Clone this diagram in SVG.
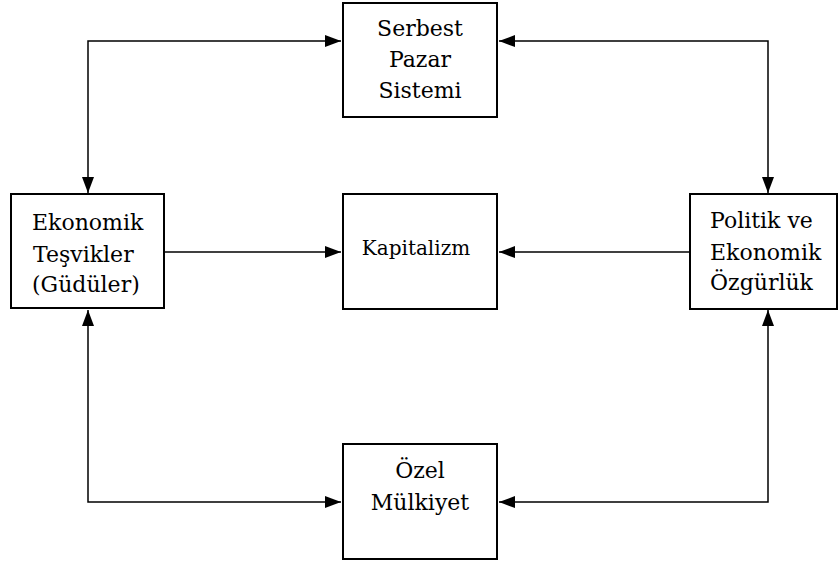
<svg xmlns="http://www.w3.org/2000/svg" width="838" height="564" viewBox="0 0 838 564">
<style>
.box{fill:#fff;stroke:#000;stroke-width:2}
.ln{fill:none;stroke:#000;stroke-width:1.5}
</style>
<defs>
<marker id="ah" viewBox="0 0 16 12" refX="16" refY="6" markerWidth="16" markerHeight="12" markerUnits="userSpaceOnUse" orient="auto-start-reverse">
<path d="M0,0 L16,6 L0,12 Z" fill="#000"/>
</marker>
</defs>
<rect width="838" height="564" fill="#fff"/>
<g id="connectors">
<polyline class="ln" points="88,193 88,41 341,41" marker-start="url(#ah)" marker-end="url(#ah)"/>
<polyline class="ln" points="499,41 768,41 768,193" marker-start="url(#ah)" marker-end="url(#ah)"/>
<polyline class="ln" points="88,310 88,502 341,502" marker-start="url(#ah)" marker-end="url(#ah)"/>
<polyline class="ln" points="768,310 768,502 499,502" marker-start="url(#ah)" marker-end="url(#ah)"/>
<line class="ln" x1="165" y1="252" x2="341" y2="252" marker-end="url(#ah)"/>
<line class="ln" x1="689" y1="252" x2="499" y2="252" marker-end="url(#ah)"/>
</g>
<g font-family="'DejaVu Serif', 'Liberation Serif', serif" font-size="22" fill="#000">
<g id="serbest" text-anchor="middle">
<rect class="box" x="343" y="3" width="154" height="114"/>
<text x="420" y="36">Serbest</text>
<text x="420" y="67">Pazar</text>
<text x="420" y="98">Sistemi</text>
</g>
<g id="ekonomik">
<rect class="box" x="11" y="194" width="153" height="114"/>
<text x="32" y="230">Ekonomik</text>
<text x="33" y="262">Teşvikler</text>
<text x="32" y="292">(Güdüler)</text>
</g>
<g id="kapitalizm" text-anchor="middle">
<rect class="box" x="343" y="194" width="154" height="115"/>
<text x="416" y="255" font-size="20">Kapitalizm</text>
</g>
<g id="politik">
<rect class="box" x="690" y="194" width="147" height="115"/>
<text x="710" y="228">Politik ve</text>
<text x="710" y="260">Ekonomik</text>
<text x="710" y="290">Özgürlük</text>
</g>
<g id="ozel" text-anchor="middle">
<rect class="box" x="343" y="444" width="154" height="115"/>
<text x="420" y="478">Özel</text>
<text x="420" y="510">Mülkiyet</text>
</g>
</g>
</svg>
